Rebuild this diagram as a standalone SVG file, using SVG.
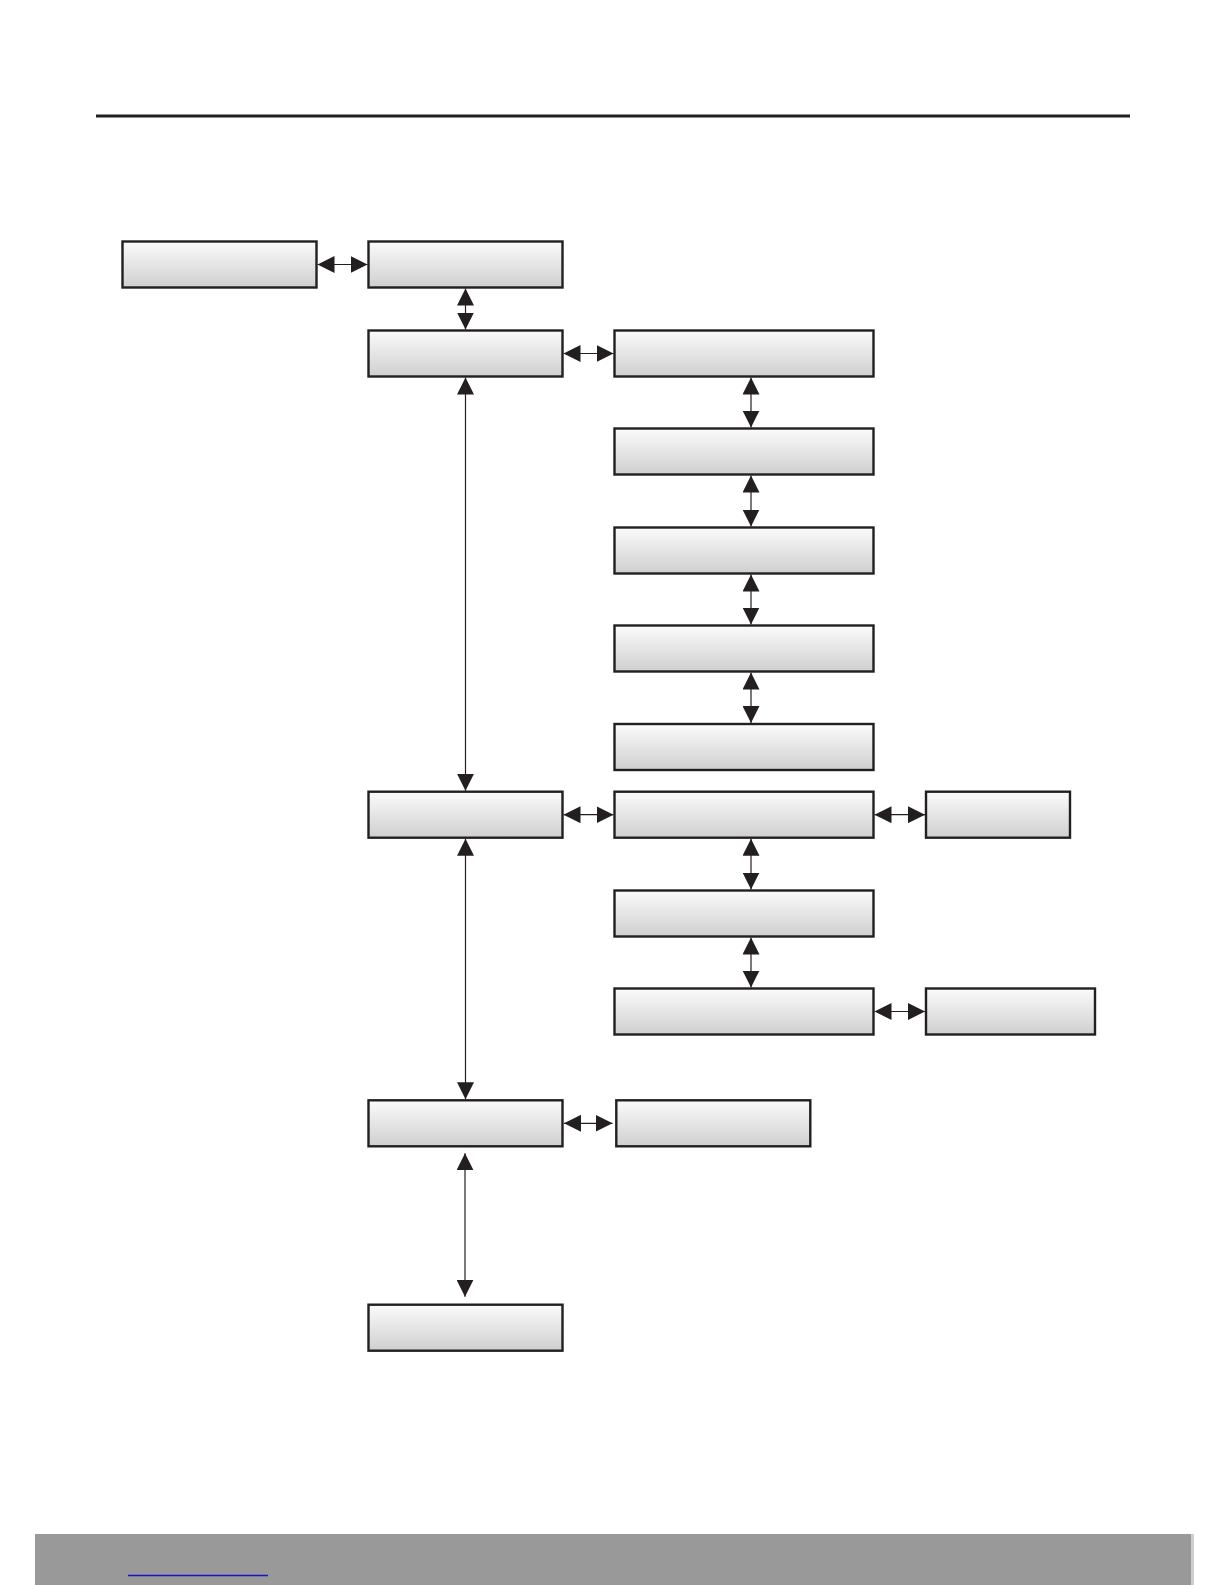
<svg xmlns="http://www.w3.org/2000/svg" width="1225" height="1585" viewBox="0 0 1225 1585">
  <style>
    .node rect { fill: url(#boxGrad); stroke: #231f20; stroke-width: 2.4; }
    .conn line { stroke: #231f20; stroke-width: 1.2; marker-start: url(#head); marker-end: url(#head); }
  </style>
  <defs>
    <linearGradient id="boxGrad" x1="0" y1="0" x2="0" y2="1">
      <stop offset="0" stop-color="#fbfbfb"/>
      <stop offset="1" stop-color="#cfcfcf"/>
    </linearGradient>
    <marker id="head" markerUnits="userSpaceOnUse" markerWidth="17" markerHeight="17" viewBox="0 0 17 17" refX="17" refY="8.5" orient="auto-start-reverse">
      <path d="M0,0 L17,8.5 L0,17 Z" fill="#231f20"/>
    </marker>
  </defs>
  <rect width="1225" height="1585" fill="#ffffff"/>
  <line x1="96" y1="116" x2="1130" y2="116" stroke="#231f20" stroke-width="3"/>

  <g id="node1" class="node"><rect x="122.5" y="241.5" width="194" height="46"/></g>
  <g id="node2" class="node"><rect x="368.5" y="241.5" width="194" height="46"/></g>
  <g id="node3" class="node"><rect x="368.5" y="330.5" width="194" height="46"/></g>
  <g id="node4" class="node"><rect x="614.5" y="330.5" width="259" height="46"/></g>
  <g id="node5" class="node"><rect x="614.5" y="428.5" width="259" height="46"/></g>
  <g id="node6" class="node"><rect x="614.5" y="527.5" width="259" height="46"/></g>
  <g id="node7" class="node"><rect x="614.5" y="625.5" width="259" height="46"/></g>
  <g id="node8" class="node"><rect x="614.5" y="724" width="259" height="46"/></g>
  <g id="node9" class="node"><rect x="368.5" y="791.7" width="194" height="46"/></g>
  <g id="node10" class="node"><rect x="614.5" y="791.7" width="259" height="46"/></g>
  <g id="node11" class="node"><rect x="926" y="791.7" width="144" height="46"/></g>
  <g id="node12" class="node"><rect x="614.5" y="890.5" width="259" height="46"/></g>
  <g id="node13" class="node"><rect x="614.5" y="988.5" width="259" height="46"/></g>
  <g id="node14" class="node"><rect x="926" y="988.5" width="169" height="46"/></g>
  <g id="node15" class="node"><rect x="368.5" y="1100.3" width="194" height="46"/></g>
  <g id="node16" class="node"><rect x="616.3" y="1100.3" width="194" height="46"/></g>
  <g id="node17" class="node"><rect x="368.5" y="1304.7" width="194" height="46"/></g>

  <g id="connectors" class="conn">
    <line x1="317.5" y1="264.5" x2="367.5" y2="264.5"/>
    <line x1="465.5" y1="288.5" x2="465.5" y2="329.5"/>
    <line x1="563.5" y1="353.5" x2="613.5" y2="353.5"/>
    <line x1="751" y1="377.5" x2="751" y2="427.5"/>
    <line x1="751" y1="475.5" x2="751" y2="526.5"/>
    <line x1="751" y1="574.5" x2="751" y2="624.5"/>
    <line x1="751" y1="672.5" x2="751" y2="723"/>
    <line x1="465.5" y1="377.5" x2="465.5" y2="790.7"/>
    <line x1="563.5" y1="814.7" x2="613.5" y2="814.7"/>
    <line x1="874.5" y1="814.7" x2="925" y2="814.7"/>
    <line x1="751" y1="838.7" x2="751" y2="889.5"/>
    <line x1="751" y1="937.5" x2="751" y2="987.5"/>
    <line x1="874.5" y1="1011.5" x2="925" y2="1011.5"/>
    <line x1="465.5" y1="838.7" x2="465.5" y2="1099.3"/>
    <line x1="564" y1="1123.3" x2="612.5" y2="1123.3"/>
    <line x1="465" y1="1153.3" x2="465" y2="1296.7"/>
  </g>

  <rect x="35" y="1534" width="1156" height="51" fill="#999999"/>
  <rect x="1191" y="1534" width="3" height="51" fill="#cfcfcf"/>
  <line x1="128" y1="1575.5" x2="268" y2="1575.5" stroke="#1414c8" stroke-width="1.5"/>
</svg>
